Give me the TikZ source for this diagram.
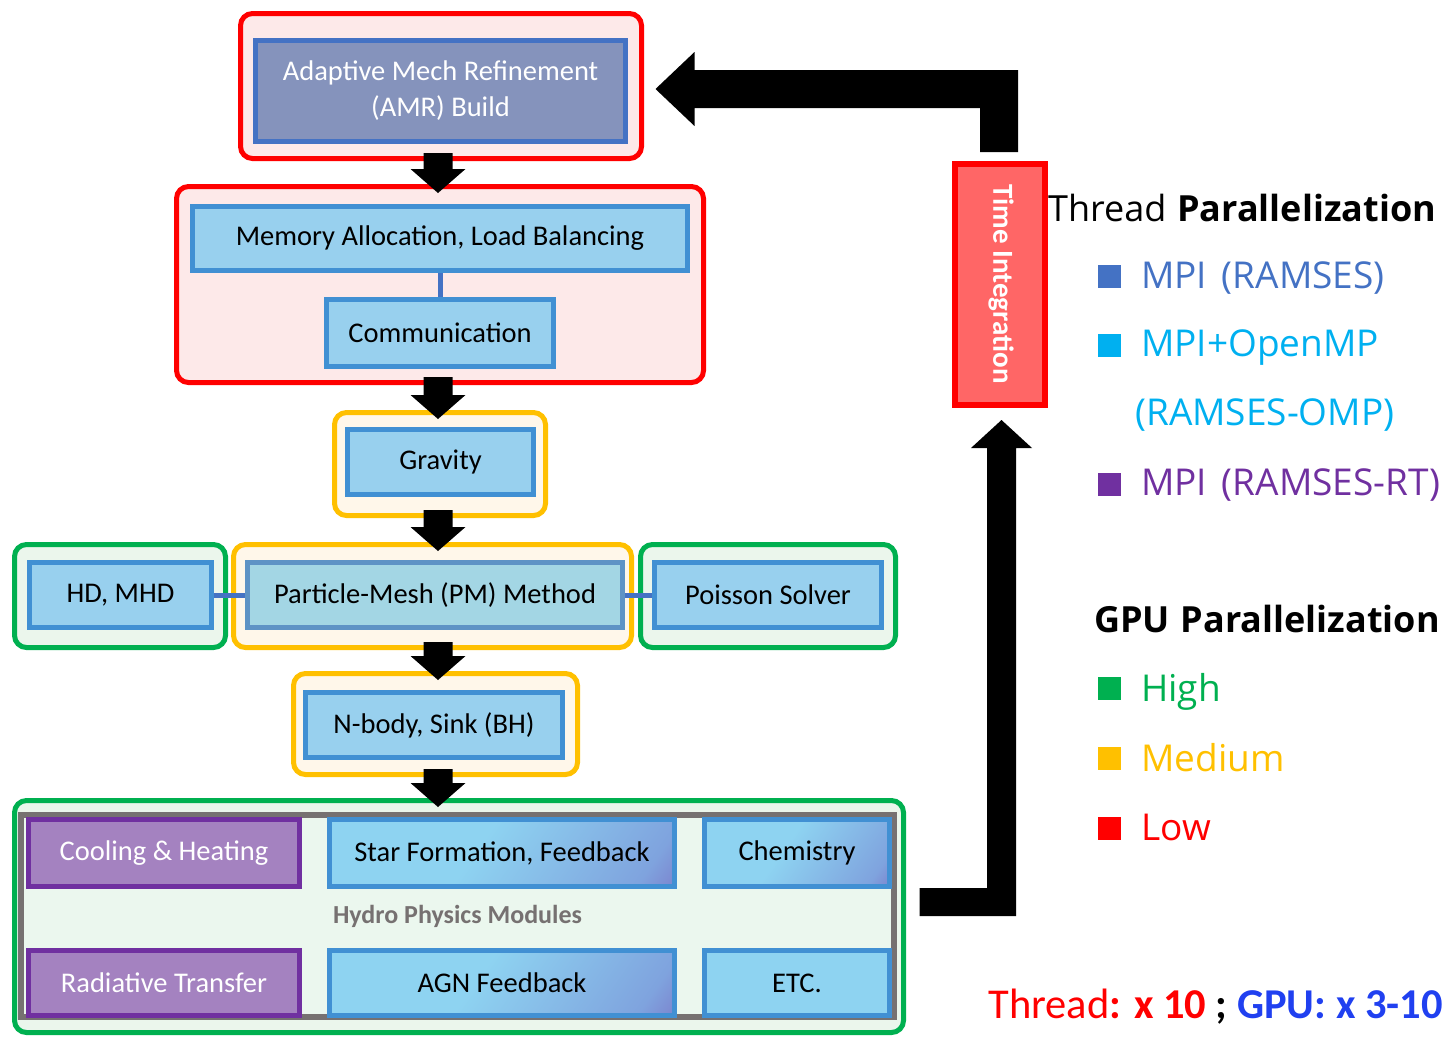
\documentclass[tikz,border=0pt]{standalone}
\usepackage{fontspec}
\setmainfont{Carlito}
\newfontfamily\lgfont{Open Sans}
\usetikzlibrary{calc}
\definecolor{cred}{HTML}{FF0000}
\definecolor{cpink}{HTML}{FDE9E9}
\definecolor{corange}{HTML}{FFC000}
\definecolor{corafill}{HTML}{FFF7EA}
\definecolor{cgreen}{HTML}{00B050}
\definecolor{cgrnfill}{HTML}{EBF6EC}
\definecolor{cinfill}{HTML}{98D0EE}
\definecolor{cindraw}{HTML}{4190D3}
\definecolor{camrfill}{HTML}{8593BC}
\definecolor{camrdraw}{HTML}{4472C4}
\definecolor{cpmfill}{HTML}{A3D6E4}
\definecolor{cpmdraw}{HTML}{5E93C5}
\definecolor{clink}{HTML}{4472C4}
\definecolor{cgray}{HTML}{767171}
\definecolor{cmodfill}{HTML}{EBF7EE}
\definecolor{cpurple}{HTML}{7030A0}
\definecolor{cpurfill}{HTML}{A482C0}
\definecolor{ctifill}{HTML}{FF6666}
\definecolor{cmpi}{HTML}{4472C4}
\definecolor{comp}{HTML}{00B0F0}
\definecolor{cblue}{HTML}{2040F0}
\definecolor{modlb}{HTML}{8ED3F1}
\definecolor{modmid}{HTML}{7FA3DE}
\definecolor{modpu}{HTML}{7444AE}
\pgfdeclarehorizontalshading{modshade}{100bp}{color(0bp)=(modlb); color(45bp)=(modlb); color(78bp)=(modmid); color(100bp)=(modpu)}
\newcommand{\bdown}[2]{%
  \fill[black] let \p1=([yshift=8pt]#1.south -| axis), \p2=([yshift=-9pt]#2.north) in
  (\x1-14.5pt,\y1) -- (\x1+14.5pt,\y1) -- (\x1+14.5pt,\y2+24pt) -- (\x1+27.5pt,\y2+24pt)
  -- (\x1,\y2) -- (\x1-27.5pt,\y2+24pt) -- (\x1-14.5pt,\y2+24pt) -- cycle;}
\begin{document}
\begin{tikzpicture}[x=1pt,y=-1pt,
  outerbox/.style={draw, line width=5pt, rounded corners=12pt, inner sep=0pt},
  redbox/.style={outerbox, draw=cred, fill=cpink},
  orabox/.style={outerbox, draw=corange, fill=corafill},
  grnbox/.style={outerbox, draw=cgreen, fill=cgrnfill},
  inbox/.style={draw=cindraw, fill=cinfill, line width=5pt, inner sep=0pt,
    font=\fontsize{28.5}{36}\selectfont, text=black},
  purbox/.style={inbox, draw=cpurple, fill=cpurfill, text=white},
  gradbox/.style={inbox, shade, shading=modshade, shading angle=-35},
  link/.style={draw=clink, line width=5pt},
  legsq/.style={fill=#1, minimum size=23pt, inner sep=0pt},
  legtxt/.style={anchor=base west, inner sep=0pt, font=\lgfont\fontsize{37}{40}\selectfont},
  leghead/.style={anchor=base west, inner sep=0pt, font=\lgfont\fontsize{36}{40}\selectfont},
  sz/.style 2 args={minimum width=#1pt, minimum height=#2pt}]
\useasboundingbox (0,0) rectangle (1454,1037);
\coordinate (axis) at (438,0);

% AMR
\node[redbox, sz={401}{145}] (amrout) at (441,86) {};
\node[inbox, fill=camrfill, draw=camrdraw, text=white, align=center, sz={370}{101}] (amr) at (440.5,91) {Adaptive Mech Refinement\\(AMR) Build};

% Memory / Communication
\node[redbox, sz={527}{196}] (memout) at (440,284.5) {};
\node[inbox, sz={495}{64}] (mem) at (440,238.5) {\raisebox{-2pt}{Memory Allocation, Load Balancing}};
\node[inbox, sz={227}{67}] (comm) at (440,333) {\raisebox{-2pt}{Communication}};
\draw[link] (mem) -- (comm);

% Gravity
\node[orabox, sz={211}{103}] (gravout) at (440,464) {};
\node[inbox, sz={186}{65}] (grav) at (440.5,462) {\raisebox{-2pt}{Gravity}};

% Row
\node[grnbox, sz={211}{103}] (hdout) at (120,596) {};
\node[orabox, sz={398}{103}] (pmout) at (432.5,596) {};
\node[grnbox, sz={255}{103}] (poisout) at (768,596) {};
\node[inbox, sz={182}{65}] (hd) at (120.5,595) {\raisebox{-2pt}{HD, MHD}};
\node[inbox, fill=cpmfill, draw=cpmdraw, sz={375}{65}] (pm) at (435,595) {\raisebox{-2pt}{Particle-Mesh (PM) Method}};
\node[inbox, sz={227}{65}] (pois) at (768,595) {\raisebox{-2pt}{Poisson Solver}};
\draw[link] (hd) -- (pm);
\draw[link] (pm) -- (pois);

% N-body
\node[orabox, sz={284}{101}] (nbout) at (435.5,724) {};
\node[inbox, sz={257}{65}] (nb) at (434,725) {N-body, Sink (BH)};

% Bottom modules
\node[grnbox, sz={889}{232}] (botout) at (459,916.5) {};
\node[draw=cgray, fill=cmodfill, line width=6pt, inner sep=0pt, sz={873}{202},
  text=cgray, font=\bfseries\fontsize{26}{30}\selectfont] (hydro) at (457.5,916) {\raisebox{-2pt}{Hydro Physics Modules}};
\node[purbox, sz={271}{67}] (cool) at (164,853) {Cooling \& Heating};
\node[gradbox, sz={345}{67}] (star) at (502,853) {Star Formation, Feedback};
\node[gradbox, sz={185}{67}] (chem) at (797,853) {Chemistry};
\node[purbox, sz={271}{65}] (rad) at (164,983) {Radiative Transfer};
\node[gradbox, sz={345}{65}] (agn) at (502,983) {AGN Feedback};
\node[inbox, fill=modlb, sz={185}{65}] (etc) at (797,983) {ETC.};

% down arrows
\bdown{amrout}{memout}
\bdown{memout}{gravout}
\bdown{gravout}{pmout}
\bdown{pmout}{nbout}
\bdown{nbout}{botout}

% Time integration
\node[draw=cred, fill=ctifill, line width=6pt, inner sep=0pt, sz={90}{241}] (ti) at (1000,284.5) {};
\node[rotate=-90, text=white, font=\bfseries\fontsize{29}{32}\selectfont] (tilabel) at (1001,284) {Time Integration};

% loop arrow bottom -> time integration
\fill[black] let \p1=([xshift=13.5pt,yshift=14.5pt]botout.east), \p2=([yshift=-12pt]ti.south) in
  (\x1,\y1-14pt) -- (\x2+16pt,\y1-14pt) -- (\x2+16pt,\y2-28pt) -- (\x2+32pt,\y2-28pt)
  -- (\x2+1.5pt,\y2) -- (\x2-29pt,\y2-28pt) -- (\x2-13pt,\y2-28pt) -- (\x2-13pt,\y1+14pt)
  -- (\x1,\y1+14pt) -- cycle;

% loop arrow time integration -> AMR
\fill[black] let \p1=([yshift=9pt]ti.north), \p2=([xshift=11.5pt,yshift=-3pt]amrout.east) in
  (\x1-20pt,\y1) -- (\x1+18pt,\y1) -- (\x1+18pt,\y2+19pt) -- (\x2+39pt,\y2+19pt)
  -- (\x2+39pt,\y2+37pt) -- (\x2,\y2) -- (\x2+39pt,\y2-37pt) -- (\x2+39pt,\y2-19pt)
  -- (\x1-20pt,\y2-19pt) -- cycle;

% Legend: thread
\node[leghead] (thead) at (1048,221) {Thread\hspace{0.3em}\textbf{Parallelization}};
\node[legsq=cmpi] (sq1) at (1109.5,276) {};
\node[legtxt, text=cmpi] (l1) at (1141,288) {MPI\hspace{0.4em}(RAMSES)};
\node[legsq=comp] (sq2) at (1109.5,345) {};
\node[legtxt, text=comp] (l2) at (1141,356) {MPI+OpenMP};
\node[legtxt, text=comp] (l3) at (1135,425) {(RAMSES-OMP)};
\node[legsq=cpurple] (sq3) at (1109.5,484) {};
\node[legtxt, text=cpurple] (l4) at (1141,495) {MPI\hspace{0.4em}(RAMSES-RT)};

% Legend: GPU
\node[leghead, font=\lgfont\bfseries\fontsize{36}{40}\selectfont] (ghead) at (1094,632) {GPU\hspace{0.3em}Parallelization};
\node[legsq=cgreen] (sq4) at (1109.5,688) {};
\node[legtxt, text=cgreen] (l5) at (1141,701) {High};
\node[legsq=corange] (sq5) at (1109.5,758) {};
\node[legtxt, text=corange] (l6) at (1141,771) {Medium};
\node[legsq=cred] (sq6) at (1109.5,828) {};
\node[legtxt, text=cred] (l7) at (1141,840) {Low};

% speedup
\node[anchor=base east, inner sep=0pt, font=\fontsize{42.5}{46}\selectfont] (speed) at (1443,1018)
  {\textcolor{cred}{Thread\textbf{: x 10}} \textbf{;} \textcolor{cblue}{\textbf{GPU: x 3-10}}};
\end{tikzpicture}
\end{document}
